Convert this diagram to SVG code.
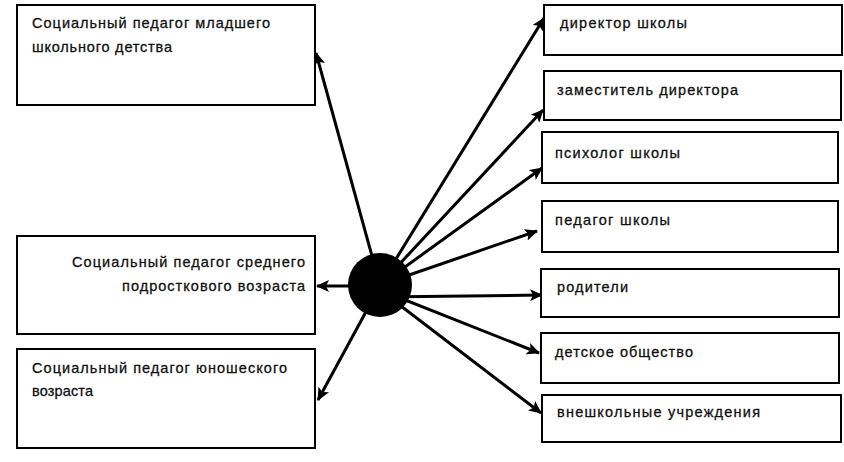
<svg xmlns="http://www.w3.org/2000/svg" width="844" height="462" viewBox="0 0 844 462">
<style>
.box{fill:#fff;stroke:#000;stroke-width:2}
.t{font-family:"Liberation Sans",Arial,sans-serif;font-size:14.5px;fill:#111;stroke:#111;stroke-width:0.3}
.c{stroke:#000;stroke-width:3;fill:none;marker-end:url(#ah)}
</style>
<defs>
<marker id="ah" markerUnits="userSpaceOnUse" markerWidth="14" markerHeight="12" refX="12" refY="6" orient="auto">
<path d="M0,0 L13,6 L0,12 L3,6 Z" fill="#000"/>
</marker>
</defs>
<rect width="844" height="462" fill="#fff"/>
<g id="connectors">
<line class="c" x1="380" y1="285" x2="316" y2="53"/>
<line class="c" x1="380" y1="286" x2="317" y2="286"/>
<line class="c" x1="380" y1="286" x2="318" y2="400"/>
<line class="c" x1="380" y1="285" x2="544" y2="18"/>
<line class="c" x1="380" y1="285" x2="543" y2="110"/>
<line class="c" x1="380" y1="285" x2="542" y2="168"/>
<line class="c" x1="380" y1="285" x2="537" y2="231"/>
<line class="c" x1="380" y1="297" x2="542" y2="295"/>
<line class="c" x1="380" y1="290" x2="539" y2="353"/>
<line class="c" x1="380" y1="290" x2="541" y2="413"/>
</g>
<g id="center"><circle cx="380" cy="285" r="32" fill="#000"/></g>
<g id="left1"><rect class="box" x="17" y="5" width="298" height="100"/>
<text class="t" x="32" y="28" textLength="238" lengthAdjust="spacing">Социальный педагог младшего</text>
<text class="t" x="32" y="52" textLength="140" lengthAdjust="spacing">школьного детства</text></g>
<g id="left2"><rect class="box" x="17" y="236" width="298" height="98"/>
<text class="t" x="72" y="267" textLength="233" lengthAdjust="spacing">Социальный педагог среднего</text>
<text class="t" x="122" y="291" textLength="183" lengthAdjust="spacing">подросткового возраста</text></g>
<g id="left3"><rect class="box" x="17" y="349" width="298" height="99"/>
<text class="t" x="32" y="373" textLength="255" lengthAdjust="spacing">Социальный педагог юношеского</text>
<text class="t" x="32" y="396" textLength="61" lengthAdjust="spacing">возраста</text></g>
<g id="r1"><rect class="box" x="544" y="5" width="298" height="50"/>
<text class="t" x="560" y="28" textLength="127" lengthAdjust="spacing">директор школы</text></g>
<g id="r2"><rect class="box" x="544" y="71" width="297" height="49"/>
<text class="t" x="557" y="95" textLength="181" lengthAdjust="spacing">заместитель директора</text></g>
<g id="r3"><rect class="box" x="542" y="132" width="296" height="51"/>
<text class="t" x="555" y="158" textLength="125" lengthAdjust="spacing">психолог школы</text></g>
<g id="r4"><rect class="box" x="542" y="201" width="296" height="51"/>
<text class="t" x="555" y="225" textLength="115" lengthAdjust="spacing">педагог школы</text></g>
<g id="r5"><rect class="box" x="541" y="269" width="298" height="48"/>
<text class="t" x="557" y="292" textLength="71" lengthAdjust="spacing">родители</text></g>
<g id="r6"><rect class="box" x="541" y="333" width="298" height="50"/>
<text class="t" x="555" y="357" textLength="138" lengthAdjust="spacing">детское общество</text></g>
<g id="r7"><rect class="box" x="542" y="395" width="299" height="47"/>
<text class="t" x="557" y="417" textLength="203" lengthAdjust="spacing">внешкольные учреждения</text></g>
</svg>
